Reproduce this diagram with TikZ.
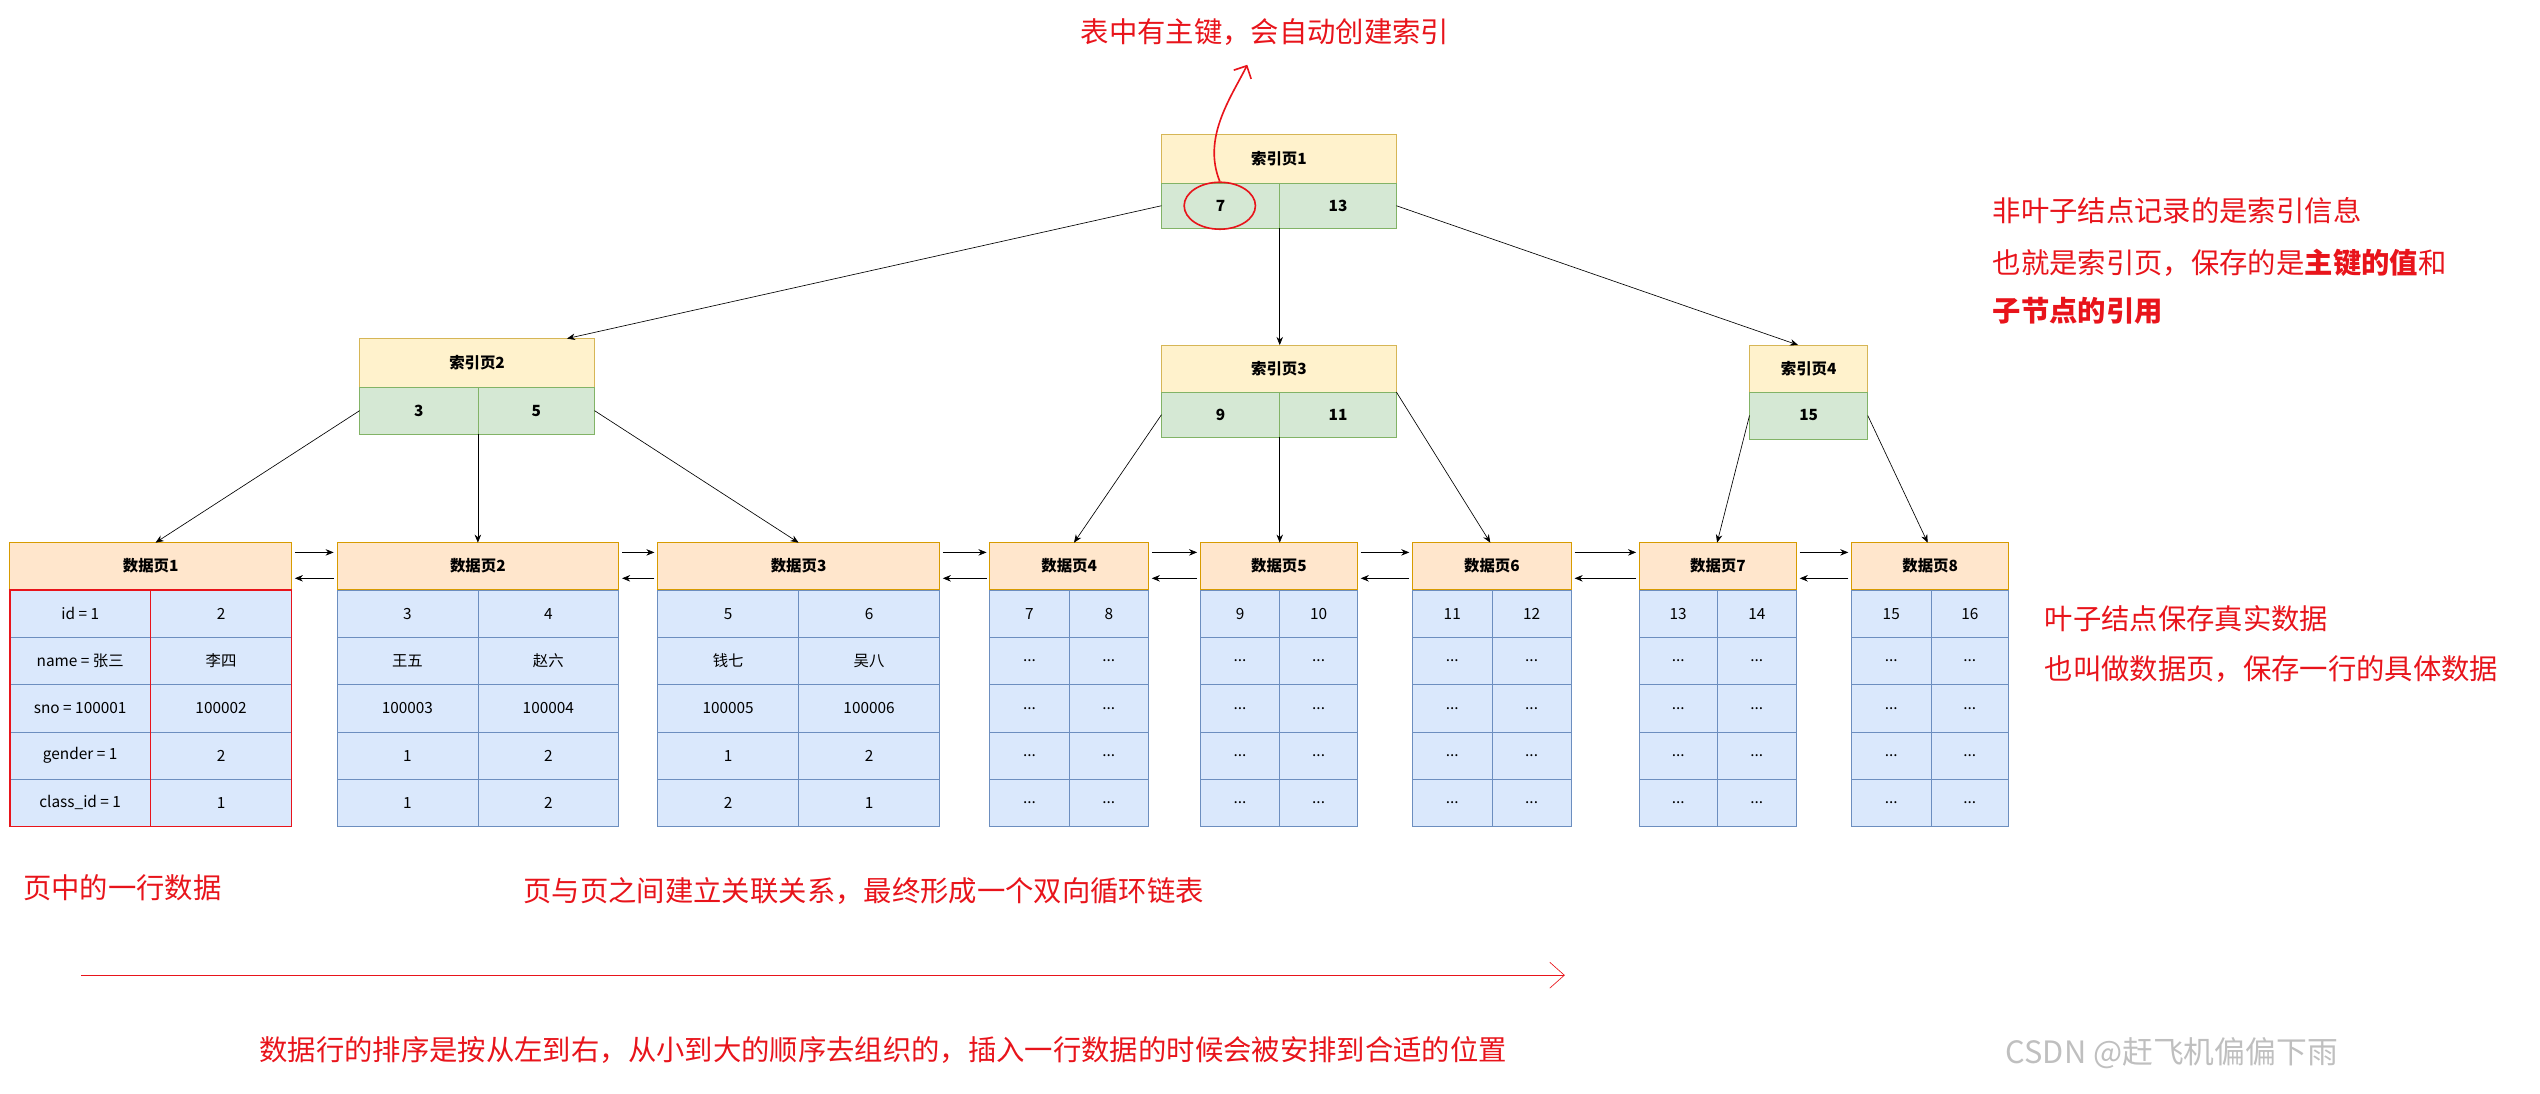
\documentclass[tikz,border=0pt]{standalone}
\usepackage{fontspec}
\setmainfont{Noto Sans CJK SC}
\usetikzlibrary{arrows.meta,shapes.geometric}

\definecolor{ytitle}{HTML}{FFF2CC}
\definecolor{yline}{HTML}{D6B656}
\definecolor{gkey}{HTML}{D5E8D4}
\definecolor{gline}{HTML}{82B366}
\definecolor{otitle}{HTML}{FFE6CC}
\definecolor{oline}{HTML}{D79B00}
\definecolor{bcell}{HTML}{DAE8FC}
\definecolor{bline}{HTML}{6C8EBF}
\definecolor{note}{HTML}{E8141B}

\tikzset{
  box/.style={anchor=north west, inner sep=0pt, outer sep=0pt, font=\fontsize{9.5}{11}\selectfont},
  ititle/.style={box, fill=ytitle, draw=yline, font=\fontsize{9.5}{11}\selectfont\bfseries},
  ikey/.style={box, fill=gkey, draw=gline, font=\fontsize{9.5}{11}\selectfont\bfseries},
  ptitle/.style={box, fill=otitle, draw=oline, minimum height=29pt, font=\fontsize{9.5}{11}\selectfont\bfseries},
  cell/.style={box, fill=bcell, draw=bline, minimum height=29.2pt},
  link/.style={-{Stealth[length=5pt,width=4pt]}, thin},
  say/.style={anchor=west, text=note, font=\fontsize{17.5}{20}\selectfont, inner sep=0pt}
}

\newcommand\dd{..{}.}
% one data page: name, left x, split x, right x, title, rows
\newcommand\datapage[6]{%
  \node[ptitle, minimum width={(#4-#2)*1pt}] (#1) at (#2,335) {#5};
  \foreach \a/\b [count=\r] in {#6}{
    \node[cell, minimum width={(#3-#2)*1pt}] (#1-\r a) at (#2,{335+29.2*\r}) {\a};
    \node[cell, minimum width={(#4-#3)*1pt}] (#1-\r b) at (#3,{335+29.2*\r}) {\b};
  }}

\begin{document}
\begin{tikzpicture}[x=1pt, y=-1pt]
\useasboundingbox (0,0) rectangle (1568,675);

% index pages
\node[ititle, minimum width=145pt, minimum height=30pt] (i1) at (717,83) {索引页1};
\node[ikey, minimum width=73pt, minimum height=28pt] (i1a) at (717,113) {7};
\node[ikey, minimum width=72pt, minimum height=28pt] (i1b) at (790,113) {13};

\node[ititle, minimum width=145pt, minimum height=30pt] (i2) at (222,209) {索引页2};
\node[ikey, minimum width=73pt, minimum height=29pt] (i2a) at (222,239) {3};
\node[ikey, minimum width=72pt, minimum height=29pt] (i2b) at (295,239) {5};

\node[ititle, minimum width=145pt, minimum height=29pt] (i3) at (717,213) {索引页3};
\node[ikey, minimum width=73pt, minimum height=28pt] (i3a) at (717,242) {9};
\node[ikey, minimum width=72pt, minimum height=28pt] (i3b) at (790,242) {11};

\node[ititle, minimum width=73pt, minimum height=29pt] (i4) at (1080,213) {索引页4};
\node[ikey, minimum width=73pt, minimum height=29pt] (i4a) at (1080,242) {15};

% data pages
\datapage{p1}{6}{93}{180}{数据页1}{id = 1/2, name = 张三/李四, sno = 100001/100002, gender = 1/2, class\_id = 1/1}
\datapage{p2}{208}{295}{382}{数据页2}{3/4, 王五/赵六, 100003/100004, 1/2, 1/2}
\datapage{p3}{406}{493}{580}{数据页3}{5/6, 钱七/吴八, 100005/100006, 1/2, 2/1}
\datapage{p4}{611}{660}{709}{数据页4}{7/8, \dd/\dd, \dd/\dd, \dd/\dd, \dd/\dd}
\datapage{p5}{741}{790}{838}{数据页5}{9/10, \dd/\dd, \dd/\dd, \dd/\dd, \dd/\dd}
\datapage{p6}{872}{921}{970}{数据页6}{11/12, \dd/\dd, \dd/\dd, \dd/\dd, \dd/\dd}
\datapage{p7}{1012}{1060}{1109}{数据页7}{13/14, \dd/\dd, \dd/\dd, \dd/\dd, \dd/\dd}
\datapage{p8}{1143}{1192}{1240}{数据页8}{15/16, \dd/\dd, \dd/\dd, \dd/\dd, \dd/\dd}

% tree links
\draw[link] (i1a.west) -- ([xshift=128pt]i2.north west);
\draw[link] (i1b.south west) -- (i3.north west -| i1b.south west);
\draw[link] (i1b.east) -- ([xshift=30pt]i4.north west);
\draw[link] (i2a.west) -- ([xshift=90pt]p1.north west);
\draw[link] (i2a.south east) -- (p2.north west -| i2a.south east);
\draw[link] (i2b.east) -- ([xshift=87pt]p3.north west);
\draw[link] (i3a.west) -- ([xshift=52pt]p4.north west);
\draw[link] (i3a.south east) -- (p5.north west -| i3a.south east);
\draw[link] (i3b.north east) -- ([xshift=48pt]p6.north west);
\draw[link] (i4a.west) -- ([xshift=48pt]p7.north west);
\draw[link] (i4a.east) -- ([xshift=47pt]p8.north west);

% leaf chain
\foreach \l/\r in {p1/p2, p2/p3, p3/p4, p4/p5, p5/p6, p6/p7, p7/p8}{
  \draw[link] ([xshift=2pt,yshift=-6pt]\l.north east) -- ([xshift=-2pt,yshift=-6pt]\r.north west);
  \draw[link] ([xshift=-2pt,yshift=-22pt]\r.north west) -- ([xshift=2pt,yshift=-22pt]\l.north east);
}

% notes
\draw[note, line width=1pt] (p1-1a.north west) rectangle (p1-5a.south east);
\draw[note, line width=1pt] (p1-1b.north west) rectangle (p1-5b.south east);
\node[draw=note, line width=1pt, ellipse, minimum width=44pt, minimum height=29pt] (hl) at (753,127) {};
\coordinate (up) at (770,40);
\draw[note, line width=1pt, -{Straight Barb[length=6pt]}] (hl.north) .. controls (742,85) and (760,60) .. (up);
\node[say] (t1) at (667,20) {表中有主键，会自动创建索引};
\node[say] (t2) at (1230,130) {非叶子结点记录的是索引信息};
\node[say] (t3) at (1230,162) {也就是索引页，保存的是\textbf{主键的值}和};
\node[say] (t4) at (1230,192) {\textbf{子节点的引用}};
\node[say] (t5) at (1262,382) {叶子结点保存真实数据};
\node[say] (t6) at (1262,413) {也叫做数据页，保存一行的具体数据};
\node[say] (t7) at (14,548) {页中的一行数据};
\node[say] (t8) at (323,550) {页与页之间建立关联关系，最终形成一个双向循环链表};
\coordinate (s0) at (50,602);
\coordinate (s1) at (966,602);
\draw[note, -{Straight Barb[length=9pt,width=16pt]}] (s0) -- (s1);
\node[say] (t9) at (160,648) {数据行的排序是按从左到右，从小到大的顺序去组织的，插入一行数据的时候会被安排到合适的位置};
\node[anchor=west, text=black!25, font=\fontsize{19}{22}\selectfont, inner sep=0pt] (wm) at (1238,650) {CSDN @赶飞机偏偏下雨};
\end{tikzpicture}
\end{document}
